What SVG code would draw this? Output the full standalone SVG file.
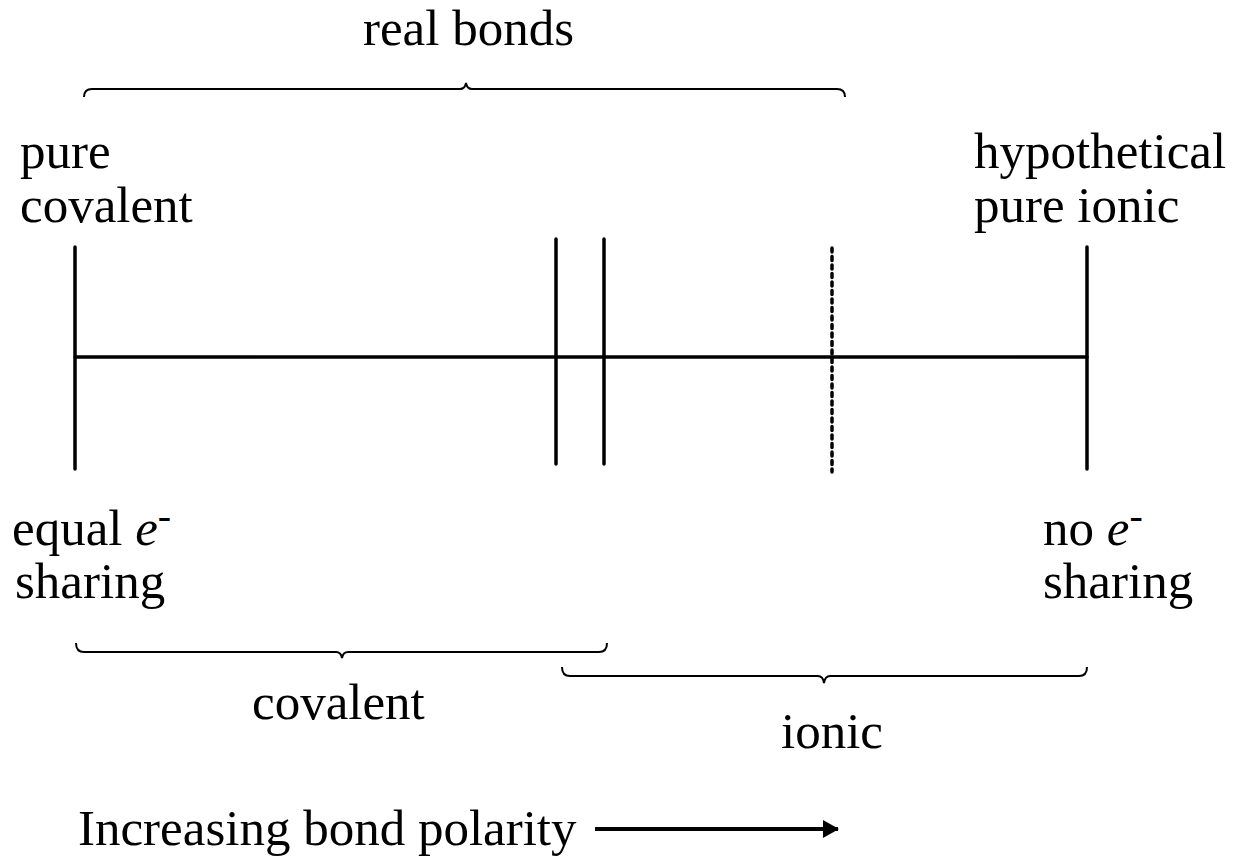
<svg xmlns="http://www.w3.org/2000/svg" width="1239" height="862" viewBox="0 0 1239 862">
<style>
text{font-family:"Liberation Serif","Times New Roman",serif;font-size:51px;fill:#000}
.ln{stroke:#000;stroke-width:3.5;fill:none;stroke-linecap:round}
.br{stroke:#000;stroke-width:2;fill:none}
.sup{font-size:40px}
</style>
<defs>
<marker id="ah" markerWidth="16" markerHeight="18" refX="15" refY="9" orient="auto" markerUnits="userSpaceOnUse">
<path d="M0,0 L16,9 L0,18 Z" fill="#000"/>
</marker>
</defs>
<rect width="1239" height="862" fill="#fff"/>
<g id="connectors">
<line class="ln" x1="75" y1="357" x2="1087" y2="357"/>
<line class="ln" x1="75" y1="247" x2="75" y2="469"/>
<line class="ln" x1="556" y1="239" x2="556" y2="464"/>
<line class="ln" x1="604" y1="239" x2="604" y2="464"/>
<line class="ln" x1="832" y1="248" x2="832" y2="472" stroke-dasharray="4 4.5" stroke-linecap="round"/>
<line class="ln" x1="1087" y1="247" x2="1087" y2="469"/>
<line x1="595" y1="829" x2="838" y2="829" stroke="#000" stroke-width="4" marker-end="url(#ah)"/>
</g>
<g id="brace-real">
<path class="br" d="M84,97 Q84,89 92,89 L460,89 Q465,89 466,83 Q467,89 472,89 L837,89 Q845,89 845,97"/>
</g>
<g id="brace-covalent">
<path class="br" d="M76,643 Q76,652 84,652 L336,652 Q341,652 342,658 Q343,652 348,652 L599,652 Q607,652 607,643"/>
</g>
<g id="brace-ionic">
<path class="br" d="M562,667 Q562,676 570,676 L818,676 Q823,676 824,683 Q825,676 830,676 L1079,676 Q1087,676 1087,667"/>
</g>
<g id="label-real"><text x="363" y="45">real bonds</text></g>
<g id="label-pure-covalent"><text x="20" y="168">pure</text><text x="20" y="222">covalent</text></g>
<g id="label-pure-ionic"><text x="974" y="168">hypothetical</text><text x="974" y="222">pure ionic</text></g>
<g id="label-equal"><text x="12" y="545">equal <tspan font-style="italic">e</tspan><tspan class="sup" dy="-16">-</tspan></text><text x="15" y="598">sharing</text></g>
<g id="label-no"><text x="1043" y="545">no <tspan font-style="italic">e</tspan><tspan class="sup" dy="-16">-</tspan></text><text x="1043" y="598">sharing</text></g>
<g id="label-covalent"><text x="252" y="719">covalent</text></g>
<g id="label-ionic"><text x="781" y="748">ionic</text></g>
<g id="label-polarity"><text x="78" y="845">Increasing bond polarity</text></g>
</svg>
